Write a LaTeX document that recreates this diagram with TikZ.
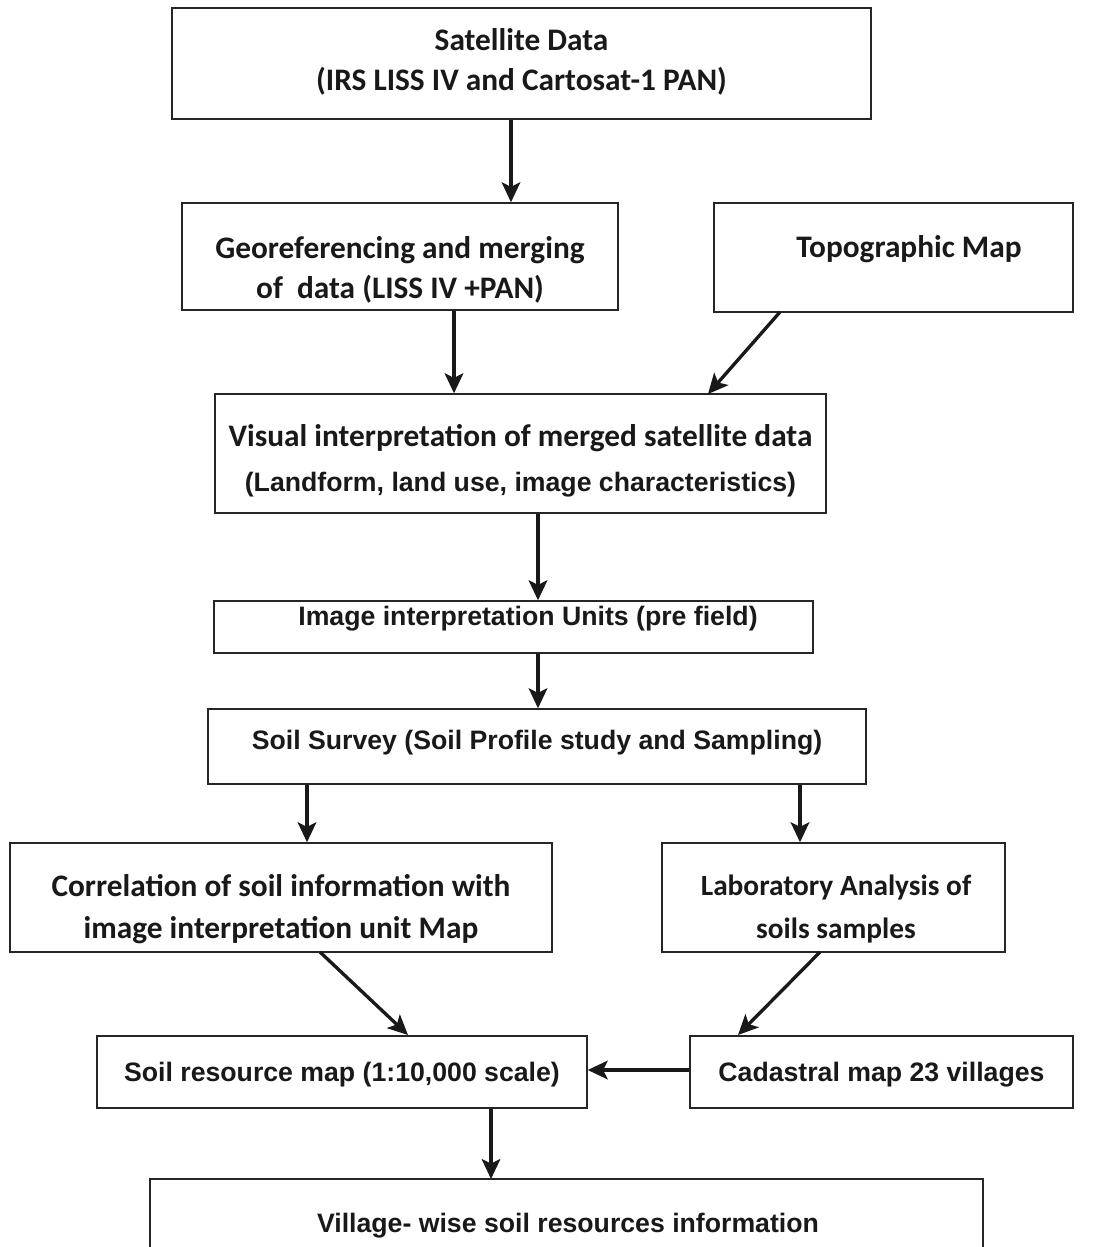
\documentclass[tikz,border=0pt]{standalone}
\usepackage{fontspec}
\newfontfamily\calfont{Carlito}
\newfontfamily\arifont{Liberation Sans}
\usetikzlibrary{arrows.meta}
\tikzset{
  box/.style={draw=black!85, line width=1.1pt, inner sep=0pt, fill=white},
  ctext/.style={align=center, inner sep=0pt, text=black!90, font=\calfont\bfseries\fontsize{23.5}{30}\selectfont},
  atext/.style={align=center, inner sep=0pt, text=black!90, font=\arifont\bfseries\fontsize{20}{30}\selectfont},
  arr/.style={line width=2.5pt, draw=black!90, -{Stealth[length=15pt, width=14pt, inset=3.5pt]}}
}
\begin{document}
\begin{tikzpicture}[x=0.75pt, y=-0.75pt]
\useasboundingbox (0,0) rectangle (1099,1247);
% boxes
\node[box, minimum width=524.25pt, minimum height=83.25pt] (sat) at (521.5,63.5) {};
\node[box, minimum width=327pt, minimum height=80.25pt] (geo) at (400,256.5) {};
\node[box, minimum width=269.25pt, minimum height=81.75pt] (topo) at (893.5,257.5) {};
\node[box, minimum width=458.25pt, minimum height=89.25pt] (vis) at (520.5,453.5) {};
\node[box, minimum width=449.25pt, minimum height=39pt] (iiu) at (513.5,627) {};
\node[box, minimum width=493.5pt, minimum height=56.25pt] (ss) at (537,746.5) {};
\node[box, minimum width=406.5pt, minimum height=81.75pt] (cor) at (281,897.5) {};
\node[box, minimum width=257.25pt, minimum height=81.75pt] (lab) at (833.5,897.5) {};
\node[box, minimum width=367.5pt, minimum height=54pt] (srm) at (342,1072) {};
\node[box, minimum width=287.25pt, minimum height=54pt] (cad) at (881.5,1072) {};
\coordinate (vilnw) at (150,1179);
\coordinate (vilne) at (983,1179);
\coordinate (vil) at (491,1179);
\draw[draw=black!85, line width=1.1pt] (vilnw |- 0,1260) -- (vilnw) -- (vilne) -- (vilne |- 0,1260);
% texts
\node[ctext] (satt) at (521.5,62) {Satellite Data\\(IRS LISS IV and Cartosat-1 PAN)};
\node[ctext] (geot) at (400,270) {Georeferencing and merging\\of\ \ data (LISS IV +PAN)};
\node[ctext] (topot) at (909,249) {Topographic Map};
\node[align=center, inner sep=0pt, text=black!90] (vist) at (520.5,461) {{\calfont\bfseries\fontsize{23.5}{30}\selectfont Visual interpretation of merged satellite data}\\[14pt]{\arifont\bfseries\fontsize{20}{30}\selectfont (Landform, land use, image characteristics)}};
\node[atext] (iiut) at (528,619) {Image interpretation Units (pre field)};
\node[atext] (sst) at (537,743) {Soil Survey (Soil Profile study and Sampling)};
\node[ctext, font=\calfont\bfseries\fontsize{23.5}{32}\selectfont] (cort) at (281,909) {Correlation of soil information with\\image interpretation unit Map};
\node[ctext, font=\calfont\bfseries\fontsize{22}{32}\selectfont] (labt) at (836,909) {Laboratory Analysis of\\soils samples};
\node[atext] (srmt) at (342,1075) {Soil resource map (1:10,000 scale)};
\node[atext] (cadt) at (881.5,1075) {Cadastral map 23 villages};
\node[atext] (vilt) at (568,1226) {Village- wise soil resources information};
% arrows
\draw[arr] (sat.south -| 511,0) -- (geo.north -| 511,0);
\draw[arr] (geo.south -| 454,0) -- (vis.north -| 454,0);
\coordinate (topoout) at (780,312);
\coordinate (visin) at (708,394);
\draw[arr] (topoout) -- (visin);
\draw[arr] (vis.south -| 538,0) -- (iiu.north -| 538,0);
\draw[arr] (iiu.south -| 538,0) -- (ss.north -| 538,0);
\draw[arr] (ss.south -| 307,0) -- (cor.north -| 307,0);
\draw[arr] (ss.south -| 800,0) -- (lab.north -| 800,0);
\coordinate (corout) at (320,952);
\coordinate (srmin) at (408,1035);
\draw[arr] (corout) -- (srmin);
\coordinate (labout) at (820,952);
\coordinate (cadin) at (738,1035);
\draw[arr] (labout) -- (cadin);
\draw[arr] (cad.west |- 0,1070) -- (srm.east |- 0,1070);
\draw[arr] (srm.south -| 491,0) -- (vil);
\end{tikzpicture}
\end{document}
